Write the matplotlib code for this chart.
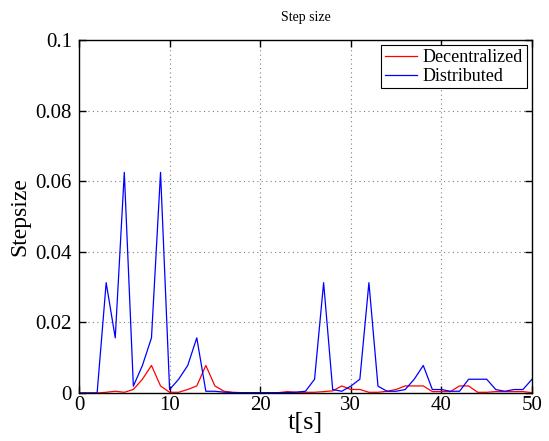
import matplotlib
matplotlib.use("Agg")
import matplotlib.pyplot as plt
import numpy as np

plt.rcParams.update({
    "font.family": ["Liberation Serif", "DejaVu Serif"],
    "mathtext.fontset": "stix",
})

t = np.arange(0, 51)

decentralized = [0, 0, 0, 0.0002, 0.0005, 0.0002, 0.001, 0.0039, 0.0078, 0.002,
                 0.0002, 0.0002, 0.001, 0.002, 0.0078, 0.002, 0.0005, 0.0002, 0.0001, 0.0001,
                 0.0001, 0.0001, 0.0001, 0.0004, 0.0002, 0.0002, 0.0002, 0.0004, 0.0006, 0.002,
                 0.001, 0.001, 0.0002, 0.0002, 0.0005, 0.001, 0.002, 0.002, 0.002, 0.0004,
                 0.0004, 0.0004, 0.002, 0.002, 0.0002, 0.0002, 0.0004, 0.0004, 0.0004, 0.0004,
                 0.0001]

distributed = [0, 0, 0, 0.03125, 0.015625, 0.0625, 0.00195, 0.0078, 0.015625, 0.0625,
               0.00098, 0.0039, 0.0078, 0.015625, 0.00049, 0.00049, 0.00024, 0.0001, 0.0001, 0.0001,
               0.0001, 0.0001, 0.0001, 0.0001, 0.00024, 0.0005, 0.0039, 0.03125, 0.00098, 0.00049,
               0.00195, 0.0039, 0.03125, 0.00195, 0.00049, 0.00049, 0.00098, 0.0039, 0.0078, 0.00098,
               0.00098, 0.00049, 0.00049, 0.0039, 0.0039, 0.0039, 0.00098, 0.00049, 0.00098, 0.00098,
               0.0039]

fig = plt.figure(figsize=(5.49, 4.41), dpi=100)
ax = fig.add_axes([79/549, 1-393/441, (532-79)/549, (393-40)/441])

ax.plot(t, decentralized, color='red', lw=0.9, label='Decentralized')
ax.plot(t, distributed, color='blue', lw=0.9, label='Distributed')

ax.set_xlim(0, 50)
ax.set_ylim(0, 0.1)
ax.set_xticks([0, 10, 20, 30, 40, 50])
ax.set_yticks([0, 0.02, 0.04, 0.06, 0.08, 0.1])
ax.set_yticklabels(['0', '0.02', '0.04', '0.06', '0.08', '0.1'])
ax.tick_params(direction='in', top=True, right=True, labelsize=15, length=5, width=1)
ax.tick_params(axis='y', pad=5)
ax.tick_params(axis='x', pad=2)
ax.grid(True, linestyle=(0, (1, 3)), color='gray', lw=0.8)
for s in ax.spines.values():
    s.set_linewidth(1)

ax.set_xlabel('t[s]', fontsize=19, labelpad=-2)
ax.set_ylabel('Stepsize', fontsize=17, labelpad=4)
ax.set_title('Step size', fontsize=10, pad=14)

leg = ax.legend(loc='upper right', fontsize=13, fancybox=False, framealpha=1,
                edgecolor='black', borderpad=0.2, handlelength=1.8, handletextpad=0.3,
                labelspacing=0.1, borderaxespad=0.3)
leg.get_frame().set_linewidth(0.8)

fig.savefig('out.png', dpi=100)
